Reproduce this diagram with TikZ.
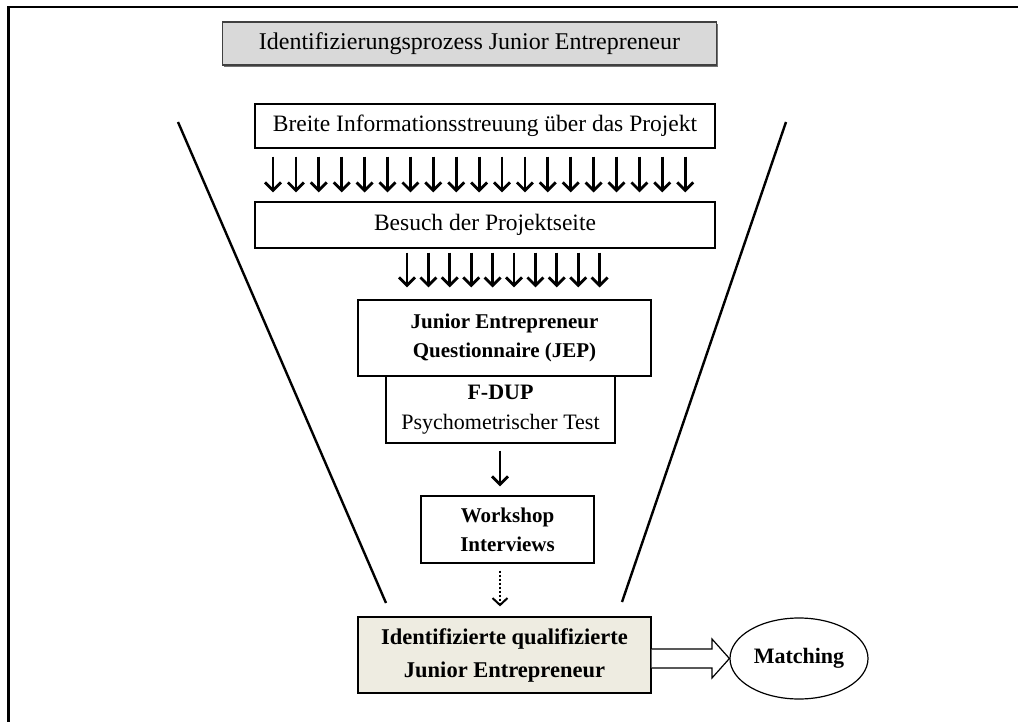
\documentclass[tikz,border=0pt]{standalone}
\usepackage{fontspec}
\setmainfont{Liberation Serif}
\usepackage{xcolor}
\usepackage{tikz}
\usetikzlibrary{shapes,arrows.meta}

\definecolor{titlegray}{HTML}{D9D9D9}
\definecolor{resultbeige}{HTML}{EEECE1}

\begin{document}
\begin{tikzpicture}
            [x=1pt,y=-1pt,
             box/.style={draw, line width=1.2pt, fill=white, inner sep=0pt, align=center, font=\fontsize{23.5}{29}\selectfont},
             boldbox/.style={box, font=\fontsize{21}{29}\selectfont\bfseries},
             downarrow/.style={line width=2.8pt, -{Straight Barb[length=8pt,width=16pt]}},
             funnel/.style={line width=2.4pt}]
            \useasboundingbox (0,0) rectangle (1018,722);
            \draw[line width=2.5pt] (8.5,722) -- (8.5,7) -- (1018,7);

            \draw[funnel] (178,122) -- (386,603);
            \draw[funnel] (786,122) -- (622,602);

            \node[box, fill=black!55, draw=none, minimum width=494, minimum height=43] at (471,45.5) {};
            \node[box, fill=titlegray, draw=black!75, minimum width=494, minimum height=43, font=\fontsize{24}{29}\selectfont] (title) at (469.5,43.5) {Identifizierungsprozess Junior Entrepreneur};
            \node[box, minimum width=460, minimum height=44] (breite) at (485,126) {Breite Informationsstreuung über das Projekt};
            \node[box, minimum width=460, minimum height=46] (besuch) at (485,225) {Besuch der Projektseite};
            \node[box, minimum width=229, minimum height=67, font=\fontsize{22}{30}\selectfont] (fdup) at (500.5,409.5) {\textbf{F-DUP}\\Psychometrischer Test};
            \node[boldbox, minimum width=293, minimum height=76] (jep) at (504.5,338) {Junior Entrepreneur\\Questionnaire (JEP)};
            \node[boldbox, minimum width=173, minimum height=67] (workshop) at (507.5,529.5) {Workshop\\Interviews};
            \node[boldbox, fill=resultbeige, minimum width=293, minimum height=76, font=\fontsize{22.5}{33}\selectfont\bfseries] (ident) at (504.5,655) {Identifizierte qualifizierte\\Junior Entrepreneur};
            \node[boldbox, ellipse, minimum width=138, minimum height=81, font=\fontsize{22}{29}\selectfont\bfseries] (match) at (799,658.5) {Matching};

            \foreach \i [evaluate=\i as \ax using 273+22.9*\i] in {0,...,18}
            \draw[downarrow, shorten <=8pt, shorten >=9pt] (\ax,0 |- breite.south) -- (\ax,0 |- besuch.north);
            \foreach \i [evaluate=\i as \ax using 407+21.4*\i] in {0,...,9}
            \draw[downarrow, shorten <=4pt, shorten >=12pt] (\ax,0 |- besuch.south) -- (\ax,0 |- jep.north);

            \draw[downarrow, shorten <=7pt, shorten >=9pt] (500,0 |- fdup.south) -- (500,0 |- workshop.north);
            \draw[line width=2pt, dotted, -{Straight Barb[length=7pt,width=15pt]}, shorten <=7pt, shorten >=10pt] (500,0 |- workshop.south) -- (500,0 |- ident.north);

            \draw[line width=1.2pt, fill=white] (ident.east |- 0,649) -- (712,649) -- (712,639) -- (match.west) -- (712,678) -- (712,668) -- (ident.east |- 0,668);
          \end{tikzpicture}
\end{document}
